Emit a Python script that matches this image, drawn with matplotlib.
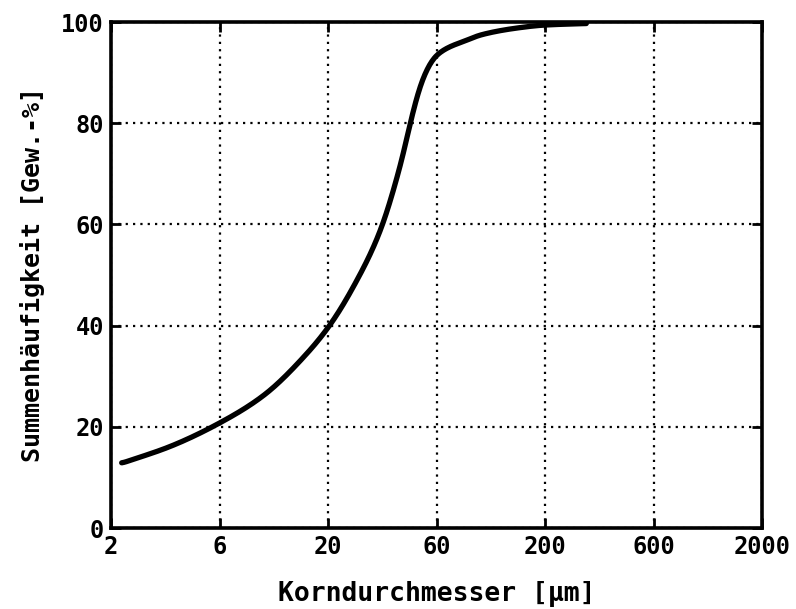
import numpy as np
import matplotlib.pyplot as plt
from matplotlib.ticker import FixedLocator, NullLocator

# Kornverteilung: Korndurchmesser [um] und Summenhaeufigkeit [Gew.-%]
d_um = [2.24, 3.74, 6.36, 10.1, 16.0, 20.4, 26.2, 34.7, 43.7, 48.5,
        53.1, 57.0, 62.2, 70.5, 87.2, 100.3, 148.0, 200.0, 310.0]
q_pct = [12.8, 16.1, 20.8, 26.2, 34.5, 40.1, 47.7, 58.6, 72.7, 81.0,
         87.2, 90.5, 93.1, 94.8, 96.4, 97.4, 98.8, 99.4, 99.7]

xtick_vals = [2, 2 * 10**0.5, 20, 20 * 10**0.5, 200, 200 * 10**0.5, 2000]
xtick_labels = ['2', '6', '20', '60', '200', '600', '2000']
ytick_vals = [0, 20, 40, 60, 80, 100]


def pchip(x, y, xn):
    # monotone kubische Interpolation (Fritsch-Carlson)
    x = np.asarray(x, float)
    y = np.asarray(y, float)
    h = np.diff(x)
    s = np.diff(y) / h
    m = np.zeros_like(y)
    m[0], m[-1] = s[0], s[-1]
    for i in range(1, len(y) - 1):
        if s[i - 1] * s[i] > 0:
            w1 = 2 * h[i] + h[i - 1]
            w2 = h[i] + 2 * h[i - 1]
            m[i] = (w1 + w2) / (w1 / s[i - 1] + w2 / s[i])
    idx = np.clip(np.searchsorted(x, xn) - 1, 0, len(h) - 1)
    t = (xn - x[idx]) / h[idx]
    h00 = 2 * t**3 - 3 * t**2 + 1
    h10 = t**3 - 2 * t**2 + t
    h01 = -2 * t**3 + 3 * t**2
    h11 = t**3 - t**2
    return (h00 * y[idx] + h10 * h[idx] * m[idx]
            + h01 * y[idx + 1] + h11 * h[idx] * m[idx + 1])


plt.rcParams['font.family'] = ['DejaVu Sans Mono', 'DejaVu Sans']
plt.rcParams['font.weight'] = 'bold'

fig = plt.figure(figsize=(7.96, 6.09), dpi=100)
ax = fig.add_axes([111 / 796, 1 - 528 / 609, (762 - 111) / 796, (528 - 22) / 609])

ax.set_xscale('log')
ax.set_xlim(2, 2000)
ax.set_ylim(0, 100)

lx = np.log10(d_um)
lx_f = np.linspace(lx[0], lx[-1], 600)
q_f = pchip(lx, q_pct, lx_f)
# leichte Glaettung gegen Knicke zwischen den Stuetzpunkten
k = np.ones(13) / 13
q_f = np.convolve(np.pad(q_f, 6, mode='edge'), k, mode='valid')
ax.plot(10**lx_f, q_f, color='black', lw=3.8, solid_capstyle='round', zorder=3)

ax.xaxis.set_major_locator(FixedLocator(xtick_vals))
ax.xaxis.set_minor_locator(NullLocator())
ax.set_xticklabels(xtick_labels)
ax.set_yticks(ytick_vals)
ax.set_yticklabels([str(v) for v in ytick_vals])

ax.grid(True, color='black', linestyle=(0, (1, 2.3)), lw=1.6)
ax.tick_params(direction='in', length=7, width=2, top=True, right=True,
               labelsize=17, pad=5)
for lab in ax.get_xticklabels() + ax.get_yticklabels():
    lab.set_fontweight('bold')
for sp in ax.spines.values():
    sp.set_linewidth(2.6)

ax.set_xlabel('Korndurchmesser [µm]', fontsize=19, fontweight='bold', labelpad=16)
ax.set_ylabel('Summenhäufigkeit [Gew.-%]', fontsize=18, fontweight='bold', labelpad=12)

fig.savefig('out.png', dpi=100)
